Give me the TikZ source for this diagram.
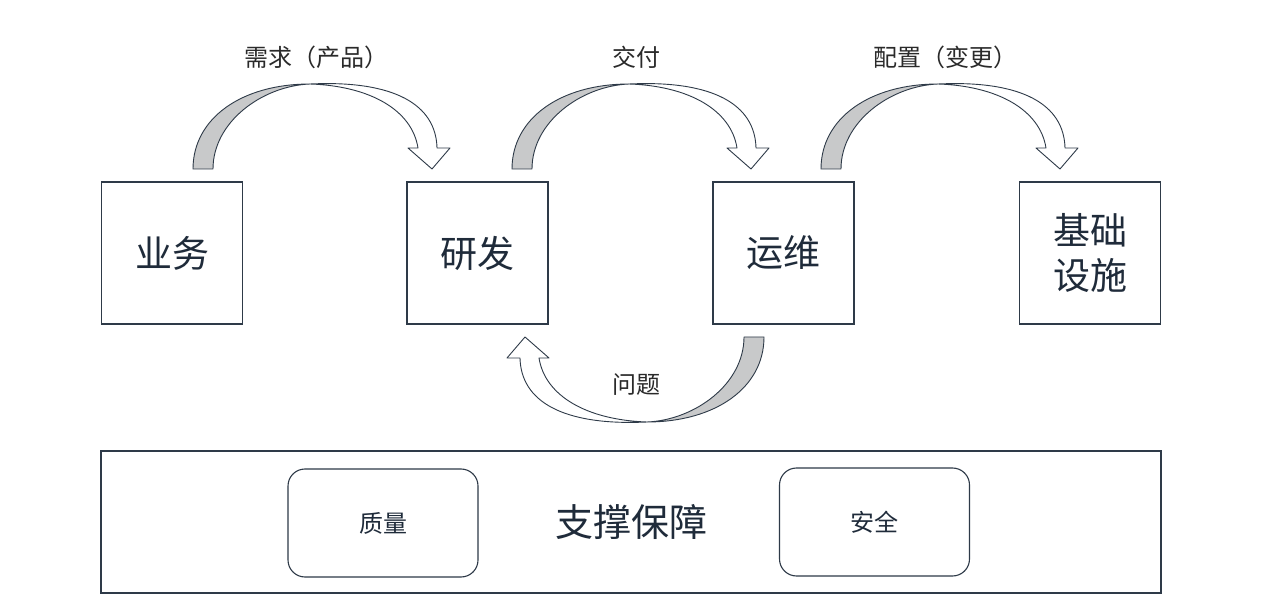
\documentclass[tikz,border=0pt]{standalone}
\usepackage{fontspec}
\newfontfamily\cjk{Noto Sans CJK SC}
\definecolor{linec}{HTML}{2E3A48}
\definecolor{txtc}{HTML}{1F2B3A}
\definecolor{grayc}{HTML}{C8C9CA}
\definecolor{lblc}{HTML}{2A2A2A}
\newcommand\mycurvedarrow{%
  \filldraw[arr,fill=grayc] (193,169) .. controls (193,118) and (242,84) .. (310,84)
     .. controls (262,86) and (213,122) .. (213,169) -- cycle;
  \filldraw[arr,fill=white] (310,84) .. controls (395,80) and (436,105) .. (437,148)
     -- (450,148) -- (432,169) -- (408,148) -- (418,148)
     .. controls (412,110) and (370,86) .. (310,84) -- cycle;
}
\begin{document}
\begin{tikzpicture}[x=1pt,y=-1pt,
  arr/.style={draw=linec, line width=0.9pt, line join=round},
  blk/.style={draw=linec, line width=1.3pt, minimum width=141pt, minimum height=142pt,
    inner sep=0pt, font=\cjk\fontsize{37}{45}\selectfont, text=txtc, align=center},
  sub/.style={draw=linec, line width=1.1pt, rounded corners=17pt, minimum width=190pt,
    minimum height=108pt, inner sep=0pt, font=\cjk\fontsize{24}{28}\selectfont, text=txtc},
  lbl/.style={font=\cjk\fontsize{24}{28}\selectfont, text=lblc, inner sep=0pt}]
\useasboundingbox[fill=white] (0,0) rectangle (1280,609);

% top boxes
\node[blk] (yw) at (172,253) {业务};
\node[blk] (yf) at (477.5,253) {研发};
\node[blk] (ywei) at (783.5,253) {运维};
\node[blk] (jc) at (1090,253) {基础\\设施};

% curved block arrows
\mycurvedarrow
\begin{scope}[shift={(319,0)}]\mycurvedarrow\end{scope}
\begin{scope}[shift={(628,0)}]\mycurvedarrow\end{scope}
\begin{scope}[rotate around={180:(478.5,253)}]\mycurvedarrow\end{scope}

% arrow labels
\node[lbl] (l1) at (316,57) {需求（产品）};
\node[lbl] (l2) at (636,57) {交付};
\node[lbl] (l3) at (945,57) {配置（变更）};
\node[lbl] (l4) at (636,385) {问题};

% support box
\node[draw=linec, line width=1.3pt, minimum width=1060pt, minimum height=142pt, inner sep=0pt,
  font=\cjk\fontsize{38}{44}\selectfont, text=txtc] (zc) at (631,522) {支撑保障};
\node[sub] (zl) at (383,523) {质量};
\node[sub] (aq) at (874.5,522) {安全};
\end{tikzpicture}
\end{document}
